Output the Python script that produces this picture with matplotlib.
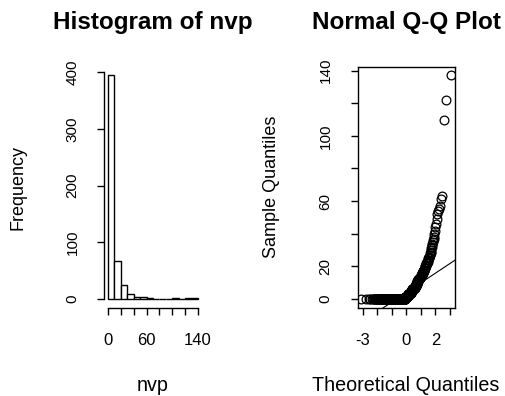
import matplotlib
matplotlib.use("Agg")
import matplotlib.pyplot as plt
import numpy as np
import pandas as pd
from statistics import NormalDist

# nvp sample, estimated from the histogram counts and the Q-Q point cloud
nvp_values = [0, 1, 2, 3, 4, 5, 6, 7, 8, 9, 10,
              11, 12, 13, 14, 15, 16, 17, 18, 19, 20,
              21, 22, 23, 24, 25, 26, 27, 28, 29, 30,
              31, 32, 33, 34, 35, 36, 37, 38, 40,
              42, 44, 46, 49, 52, 54, 55, 57, 61, 63,
              110, 122, 137]
nvp_counts = [240, 22, 20, 19, 18, 17, 16, 15, 15, 7, 6,
              11, 10, 9, 8, 7, 6, 5, 4, 4, 3,
              4, 4, 3, 3, 3, 2, 2, 2, 1, 1,
              1, 1, 1, 1, 1, 1, 1, 1, 1,
              1, 1, 1, 1, 1, 1, 1, 1, 1, 1,
              1, 1, 1]

hist_breaks = list(range(0, 150, 10))
hist_xticks = [0, 20, 40, 60, 80, 100, 120, 140]
hist_xlabels = ["0", "", "", "60", "", "", "", "140"]
hist_yticks = [0, 100, 200, 300, 400]
qq_xticks = [-3, -2, -1, 0, 1, 2, 3]
qq_xlabels = ["-3", "", "", "0", "", "2", ""]
qq_yticks = [0, 20, 40, 60, 80, 100, 120, 140]
qq_ylabels = ["0", "20", "", "60", "", "100", "", "140"]

plt.rcParams["font.family"] = ["Liberation Sans", "DejaVu Sans"]

nvp = np.repeat(nvp_values, nvp_counts)
n = len(nvp)

W, H = 505, 396
fig = plt.figure(figsize=(W / 100, H / 100), dpi=100)


def box(l, t, r, b):
    return [l / W, 1 - b / H, (r - l) / W, (b - t) / H]


def pad4(lo, hi):
    d = (hi - lo) * 0.04
    return lo - d, hi + d


LW = 1.0
TICK_KW = dict(direction="out", length=5, width=LW, color="black")

# ---- histogram (R style: right-closed bins, no box) ----
ax1 = fig.add_axes(box(104.4, 66, 201.6, 308))
binned = pd.cut(pd.Series(nvp), hist_breaks, right=True, include_lowest=True)
counts = binned.value_counts(sort=False).sort_index().values
ax1.bar(hist_breaks[:-1], counts, width=10, align="edge",
        facecolor="white", edgecolor="black", linewidth=LW)
ax1.set_xlim(*pad4(hist_breaks[0], hist_breaks[-1]))
ax1.set_ylim(*pad4(0, counts.max()))
for s in ["top", "right"]:
    ax1.spines[s].set_visible(False)
ax1.spines["left"].set_bounds(hist_yticks[0], hist_yticks[-1])
ax1.spines["bottom"].set_bounds(hist_breaks[0], hist_breaks[-1])
ax1.set_xticks(hist_xticks, hist_xlabels)
ax1.set_yticks(hist_yticks, [str(v) for v in hist_yticks])

# ---- normal Q-Q plot ----
ax2 = fig.add_axes(box(357.5, 66.5, 455, 308))
nd = NormalDist()
theo = np.array([nd.inv_cdf((i - 0.5) / n) for i in range(1, n + 1)])
samp = np.sort(nvp)
ax2.plot(theo, samp, "o", mfc="none", mec="black", ms=6.3, mew=0.9)
q1, q3 = np.quantile(nvp, [0.25, 0.75])
slope = (q3 - q1) / (nd.inv_cdf(0.75) - nd.inv_cdf(0.25))
icpt = q1 - slope * nd.inv_cdf(0.25)
ax2.axline((0, icpt), slope=slope, color="black", lw=0.8)
ax2.set_xlim(*pad4(theo.min(), theo.max()))
ax2.set_ylim(*pad4(samp.min(), samp.max()))
ax2.set_xticks(qq_xticks, qq_xlabels)
ax2.set_yticks(qq_yticks, qq_ylabels)

for ax in (ax1, ax2):
    for s in ax.spines.values():
        s.set_linewidth(LW)
    ax.tick_params(axis="x", labelsize=12, pad=13, **TICK_KW)
    ax.tick_params(axis="y", labelsize=11, pad=13, labelrotation=90, **TICK_KW)
    for lab in ax.get_yticklabels():
        lab.set_va("center")

# ---- titles and axis labels ----
def ftext(x, y, s, **kw):
    fig.text(x / W, 1 - y / H, s, **kw)


ftext(153, 29, "Histogram of nvp", ha="center", va="baseline", fontsize=17.5, fontweight="bold")
ftext(406, 29, "Normal Q-Q Plot", ha="center", va="baseline", fontsize=17.5, fontweight="bold")
ftext(153, 391, "nvp", ha="center", va="baseline", fontsize=14.2)
ftext(406, 391, "Theoretical Quantiles", ha="center", va="baseline", fontsize=14.2)
ftext(18, 187, "Frequency", ha="center", va="center", rotation=90, fontsize=13)
ftext(272, 187, "Sample Quantiles", ha="center", va="center", rotation=90, fontsize=13)

fig.savefig("out.png", dpi=100)
